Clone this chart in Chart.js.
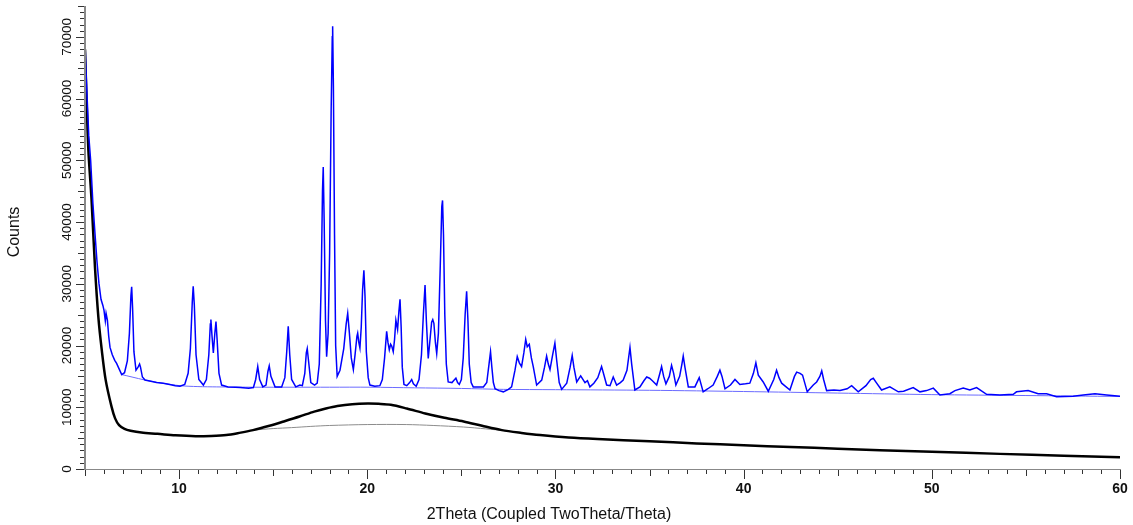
<!DOCTYPE html>
<html>
<head>
<meta charset="utf-8">
<script src="https://cdn.jsdelivr.net/npm/chart.js@4.4.1/dist/chart.umd.min.js"></script>
<style>
  html, body { margin: 0; padding: 0; background: #ffffff; }
  #wrap { width: 1133px; height: 525px; }
</style>
</head>
<body>
<div id="wrap"><canvas id="c" width="1133" height="525"></canvas></div>
<script>
// ---- data (2Theta, Counts) ----
const bluePattern = [
  [5.00,69000],[5.06,64000],[5.12,59700],[5.20,54000],[5.30,50000],[5.42,43000],[5.53,38200],[5.64,33500],
  [5.74,30100],[5.85,27500],[5.95,26500],[6.01,25700],[6.08,24000],[6.12,25200],[6.19,24100],[6.26,21500],
  [6.33,19700],[6.45,18500],[6.58,17600],[6.68,17100],[6.80,16300],[6.95,15300],[7.10,15600],[7.25,17500],
  [7.36,22000],[7.44,28000],[7.48,29500],[7.53,26000],[7.60,19000],[7.71,16000],[7.82,16500],[7.90,17000],
  [7.95,16500],[8.05,14900],[8.19,14400],[8.50,14200],[8.80,14000],[9.16,13900],[9.50,13700],[9.80,13500],
  [10.05,13400],[10.30,13700],[10.48,15500],[10.60,19500],[10.70,27000],[10.75,29600],[10.81,26500],[10.90,18500],
  [11.05,14500],[11.29,13600],[11.45,14500],[11.58,18500],[11.66,23500],[11.69,24200],[11.75,21500],[11.82,18800],
  [11.90,22000],[11.96,23900],[12.02,21000],[12.12,15500],[12.26,13600],[12.60,13300],[13.00,13250],[13.24,13200],
  [13.70,13100],[13.95,13200],[14.07,14500],[14.18,16600],[14.28,14500],[14.45,13300],[14.62,13600],[14.72,15800],
  [14.79,16700],[14.88,15000],[15.10,13300],[15.45,13300],[15.62,14800],[15.72,19000],[15.80,23100],[15.88,18500],
  [15.98,14500],[16.20,13300],[16.42,13600],[16.55,13500],[16.68,15500],[16.76,18800],[16.81,19500],[16.88,17500],
  [17.00,14000],[17.20,13600],[17.34,13900],[17.45,17000],[17.55,30000],[17.62,45000],[17.66,48900],[17.71,40000],
  [17.78,24000],[17.84,18200],[17.92,22000],[18.00,35000],[18.08,58000],[18.14,70000],[18.16,71700],[18.20,62000],
  [18.26,38000],[18.32,20000],[18.40,15000],[18.55,16000],[18.75,19500],[18.88,23500],[18.96,25200],[19.05,22000],
  [19.15,18000],[19.26,16100],[19.35,18500],[19.45,21500],[19.49,22000],[19.55,20500],[19.61,19600],[19.68,23000],
  [19.75,29000],[19.82,32200],[19.88,28000],[19.95,19000],[20.05,14800],[20.14,13600],[20.40,13400],[20.67,13500],
  [20.80,14500],[20.92,18000],[21.03,22300],[21.10,20500],[21.17,19300],[21.24,20200],[21.30,19900],[21.38,19000],
  [21.45,21000],[21.52,24100],[21.61,22600],[21.68,25500],[21.74,27500],[21.80,23000],[21.86,16500],[21.95,13700],
  [22.10,13500],[22.25,14000],[22.36,14500],[22.45,13800],[22.60,13400],[22.75,14500],[22.88,18500],[22.98,25000],
  [23.07,29800],[23.14,24000],[23.24,17900],[23.32,20500],[23.42,23800],[23.48,24200],[23.54,23600],[23.62,20500],
  [23.69,18700],[23.78,22000],[23.88,33000],[23.96,42500],[24.00,43500],[24.05,38000],[24.12,25000],[24.20,17000],
  [24.30,14100],[24.50,14000],[24.62,14400],[24.71,14700],[24.80,14000],[24.89,13700],[25.00,14500],[25.10,18000],
  [25.20,25000],[25.28,28800],[25.35,24000],[25.42,17000],[25.52,14000],[25.63,13300],[26.17,13300],[26.35,14000],
  [26.47,17000],[26.55,19000],[26.62,16500],[26.70,14000],[26.79,13000],[27.00,12700],[27.23,12500],[27.50,12900],
  [27.67,13300],[27.85,16000],[27.97,18200],[28.08,17200],[28.20,16600],[28.32,18800],[28.42,21000],[28.50,19800],
  [28.61,20200],[28.72,18000],[28.82,16600],[29.00,13600],[29.27,14400],[29.42,16500],[29.53,18300],[29.62,17000],
  [29.71,16100],[29.85,18500],[29.97,20400],[30.07,17500],[30.20,14000],[30.33,12900],[30.60,13900],[30.78,16500],
  [30.89,18400],[30.98,16500],[31.13,14100],[31.34,15100],[31.57,14000],[31.70,14300],[31.83,13300],[32.04,13900],
  [32.25,14800],[32.45,16600],[32.55,15500],[32.72,13600],[32.90,13500],[33.07,14900],[33.25,13600],[33.45,14000],
  [33.60,14400],[33.80,16000],[33.96,19700],[34.05,17000],[34.22,12800],[34.49,13300],[34.70,14300],[34.85,14900],
  [35.00,14700],[35.15,14300],[35.38,13600],[35.55,15500],[35.64,16600],[35.75,15000],[35.87,13800],[36.05,15000],
  [36.17,16800],[36.28,15500],[36.40,13600],[36.60,15000],[36.72,17000],[36.79,18300],[36.88,16500],[37.06,13300],
  [37.41,13300],[37.64,14800],[37.85,12500],[38.10,13000],[38.38,13600],[38.60,15000],[38.74,16000],[38.85,15000],
  [39.01,13000],[39.30,13600],[39.54,14500],[39.80,13700],[40.10,13800],[40.33,13900],[40.52,15500],[40.65,17200],
  [40.78,15200],[41.04,14100],[41.31,12600],[41.60,14500],[41.75,16000],[41.88,14800],[42.02,13900],[42.46,12800],
  [42.70,15000],[42.82,15700],[43.00,15500],[43.13,15200],[43.38,12500],[43.70,13600],[43.88,14100],[44.05,15000],
  [44.15,15900],[44.25,14500],[44.41,12700],[44.80,12800],[45.12,12700],[45.50,13000],[45.74,13500],[46.09,12500],
  [46.50,13500],[46.75,14500],[46.89,14700],[47.05,14000],[47.33,12800],[47.77,13300],[48.22,12500],[48.50,12600],
  [49.01,13200],[49.37,12500],[49.72,12700],[50.08,13100],[50.43,12000],[50.96,12200],[51.23,12700],[51.67,13100],
  [52.02,12800],[52.38,13200],[52.91,12100],[53.62,12000],[54.33,12100],[54.50,12500],[55.12,12700],[55.65,12200],
  [56.10,12200],[56.63,11700],[57.51,11800],[58.05,12000],[58.67,12200],[59.29,12000],[60.00,11800]
];
const blueBackground = [
  [6.95,15300],[7.50,14900],[8.20,14400],[9.00,13950],[10.05,13500],[11.00,13350],[12.00,13300],[14.00,13250],
  [16.00,13250],[18.00,13250],[20.14,13250],[22.50,13150],[25.00,13050],[27.23,12900],[30.00,12850],[35.00,12750],
  [40.00,12550],[45.00,12300],[50.00,12050],[55.00,11900],[60.00,11750]
];
const blackPattern = [
  [5.00,68000],[5.08,60000],[5.18,51600],[5.35,43500],[5.53,32700],[5.71,24600],[5.89,19300],[6.10,14400],
  [6.41,10100],[6.60,8200],[6.81,7100],[7.10,6500],[7.42,6200],[8.00,5900],[8.85,5700],[9.80,5450],
  [10.88,5300],[11.70,5350],[12.51,5500],[13.20,5850],[13.93,6300],[14.80,7000],[15.56,7700],[16.40,8500],
  [17.18,9300],[17.80,9800],[18.41,10200],[19.20,10500],[20.03,10600],[20.60,10550],[21.25,10400],[22.10,9800],
  [23.08,9000],[24.10,8300],[25.12,7700],[26.10,7000],[27.15,6300],[28.20,5850],[29.18,5500],[30.70,5100],
  [32.23,4850],[35.00,4500],[37.50,4150],[40.00,3850],[42.50,3550],[45.00,3300],[47.24,3050],[50.00,2800],
  [53.62,2450],[57.00,2150],[60.00,1900]
];
const blackBackground = [
  [13.93,6300],[15.00,6550],[15.97,6700],[17.00,6900],[18.00,7050],[20.00,7200],[22.07,7200],[23.50,7050],
  [25.12,6800],[26.30,6500],[27.36,6200]
];
const xTickValues = [10, 20, 30, 40, 50, 60];
const xTickLabels = ['10', '20', '30', '40', '50', '60'];
const yTickValues = [0, 10000, 20000, 30000, 40000, 50000, 60000, 70000];
const yTickLabels = ['0', '10000', '20000', '30000', '40000', '50000', '60000', '70000'];
const xTitle = '2Theta (Coupled TwoTheta/Theta)';
const yTitle = 'Counts';

const toPts = arr => arr.map(p => ({ x: p[0], y: p[1] }));

const axisPlugin = {
  id: 'axisPlugin',
  afterDraw(chart) {
    const { ctx, chartArea: a, scales: { x, y } } = chart;
    ctx.save();
    // axis lines
    ctx.strokeStyle = '#888888';
    ctx.lineWidth = 2;
    ctx.beginPath(); ctx.moveTo(a.left, a.top); ctx.lineTo(a.left, a.bottom + 1); ctx.stroke();
    ctx.lineWidth = 1.2;
    ctx.beginPath(); ctx.moveTo(a.left, a.bottom + 0.5); ctx.lineTo(a.right + 1, a.bottom + 0.5); ctx.stroke();

    // y tick marks
    ctx.strokeStyle = '#333333';
    ctx.lineWidth = 1;
    for (let v = 0; v <= y.max; v += 1000) {
      const py = Math.round(y.getPixelForValue(v)) + 0.5;
      const len = (v % 10000 === 0) ? 8 : (v % 5000 === 0 ? 6 : 4);
      ctx.beginPath(); ctx.moveTo(a.left - 1, py); ctx.lineTo(a.left - 1 - len, py); ctx.stroke();
    }
    // x tick marks
    for (let v = Math.ceil(x.min); v <= x.max; v += 1) {
      const px = Math.round(x.getPixelForValue(v)) + 0.5;
      const len = (v % 10 === 0) ? 9 : (v % 5 === 0 ? 6 : 4);
      ctx.beginPath(); ctx.moveTo(px, a.bottom + 1); ctx.lineTo(px, a.bottom + 1 + len); ctx.stroke();
    }

    // x tick labels
    ctx.fillStyle = '#111111';
    ctx.font = 'bold 14px "Liberation Sans", Arial, sans-serif';
    ctx.textAlign = 'center';
    ctx.textBaseline = 'middle';
    xTickValues.forEach((v, i) => {
      ctx.fillText(xTickLabels[i], x.getPixelForValue(v), a.bottom + 20);
    });
    // y tick labels (rotated)
    ctx.font = '13.5px "Liberation Sans", Arial, sans-serif';
    yTickValues.forEach((v, i) => {
      ctx.save();
      ctx.translate(a.left - 18, y.getPixelForValue(v));
      ctx.rotate(-Math.PI / 2);
      ctx.fillText(yTickLabels[i], 0, 0);
      ctx.restore();
    });
    // titles
    ctx.font = '16px "Liberation Sans", Arial, sans-serif';
    ctx.fillText(xTitle, 549, 515);
    ctx.save();
    ctx.translate(15, 232);
    ctx.rotate(-Math.PI / 2);
    ctx.fillText(yTitle, 0, 0);
    ctx.restore();
    ctx.restore();
  }
};

new Chart(document.getElementById('c'), {
  type: 'line',
  data: {
    datasets: [
      { data: toPts(bluePattern), borderColor: '#0000ff', borderWidth: 1.5, pointRadius: 0, tension: 0, order: 0 },
      { data: toPts(blueBackground), borderColor: '#6b6bff', borderWidth: 1, pointRadius: 0, tension: 0.3, order: 1 },
      { data: toPts(blackPattern), borderColor: '#000000', borderWidth: 2.5, pointRadius: 0, tension: 0.3, order: 2 },
      { data: toPts(blackBackground), borderColor: '#8c8c8c', borderWidth: 1, pointRadius: 0, tension: 0.3, order: 3 }
    ]
  },
  options: {
    responsive: false,
    animation: false,
    devicePixelRatio: 1,
    layout: { padding: { top: 6, right: 13, left: 0, bottom: 0 } },
    plugins: { legend: { display: false }, tooltip: { enabled: false } },
    scales: {
      x: {
        type: 'linear', min: 5, max: 60,
        ticks: { display: false }, grid: { display: false }, border: { display: false },
        afterFit: s => { s.height = 56; }
      },
      y: {
        type: 'linear', min: 0, max: 75000,
        ticks: { display: false }, grid: { display: false }, border: { display: false },
        afterFit: s => { s.width = 85; }
      }
    }
  },
  plugins: [axisPlugin]
});
</script>
</body>
</html>
